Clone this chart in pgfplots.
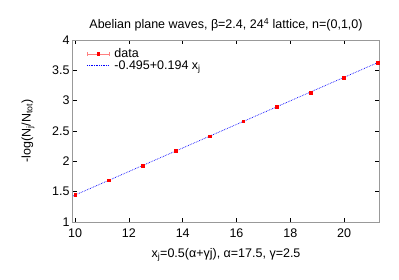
\documentclass[border=0pt]{standalone}
\usepackage{pgfplots}
\pgfplotsset{compat=1.18}
\usepackage{fontspec}
\setmainfont{Liberation Sans}
\begin{document}
\begin{tikzpicture}
\begin{axis}[
  scale only axis,
  width=306pt, height=182pt,
  xmin=9.92, xmax=21.3,
  ymin=1, ymax=4,
  xtick={10,12,14,16,18,20},
  ytick={1,1.5,2,2.5,3,3.5,4},
  yticklabel style={/pgf/number format/.cd, fixed, precision=1},
  tick align=inside,
  major tick length=4pt,
  axis line style={gray!80, line width=1pt},
  every tick/.style={black, line width=0.5pt},
  /pgf/number format/assume math mode=true,
  tick label style={font=\fontsize{12.5}{14}\selectfont},
  title style={font=\fontsize{12.5}{14}\selectfont, yshift=-1pt},
  title={Abelian plane waves, β=2.4, 24\textsuperscript{4} lattice, n=(0,1,0)},
  xlabel={x$_\mathrm{j}$=0.5(α+γj), α=17.5, γ=2.5},
  ylabel={-log(N$_\mathrm{j}$/N$_\mathrm{tot}$)},
  every axis x label/.style={at={(axis description cs:0.5,0)}, yshift=-33pt, anchor=center, font=\fontsize{12.5}{14}\selectfont},
  every axis y label/.style={at={(axis description cs:0,0.5)}, xshift=-45pt, rotate=90, anchor=center, font=\fontsize{12.5}{14}\selectfont},
  xticklabel style={yshift=-3pt},
  legend style={draw=none, fill=none, at={(0.035,0.975)}, anchor=north west,
    font=\fontsize{12.5}{12}\selectfont, row sep=-3pt},
  legend cell align=left,
]
\addplot[red, mark=square*, mark size=1.4pt, only marks, forget plot,
  error bars/.cd, x dir=both, x explicit, error bar style={red!50}]
  coordinates {
  (10,1.45) +- (0.05,0)
  (11.25,1.69) +- (0.05,0)
  (12.5,1.93) +- (0.05,0)
  (13.75,2.17) +- (0.05,0)
  (15,2.415) +- (0.05,0)
  (16.25,2.66) +- (0.05,0)
  (17.5,2.905) +- (0.05,0)
  (18.75,3.135) +- (0.05,0)
  (20,3.385) +- (0.05,0)
  (21.25,3.625) +- (0.05,0)
  };
\addplot[blue, densely dotted, line width=0.7pt, forget plot] coordinates {(9.92,1.429) (21.3,3.637)};
\addlegendimage{legend image code/.code={
  \draw[red!50, line width=0.6pt] (0pt,0pt) -- (22pt,0pt);
  \draw[red!50, line width=0.6pt] (0pt,-2pt) -- (0pt,2pt);
  \draw[red!50, line width=0.6pt] (22pt,-2pt) -- (22pt,2pt);
  \fill[red] (9.6pt,-1.4pt) rectangle (12.4pt,1.4pt);
  \path (25pt,0pt);
}}
\addlegendentry{data}
\addlegendimage{legend image code/.code={
  \draw[blue, densely dotted, line width=0.7pt] (0pt,0pt) -- (22pt,0pt);
  \path (25pt,0pt);
}}
\addlegendentry{-0.495+0.194 x$_\mathrm{j}$}
\end{axis}
\path (current axis.south west) ++(-73pt,-57pt) coordinate (bl);
\path (current axis.north east) ++(20pt,40pt) coordinate (tr);
\pgfresetboundingbox
\path[use as bounding box] (bl) rectangle (tr);
\end{tikzpicture}
\end{document}
